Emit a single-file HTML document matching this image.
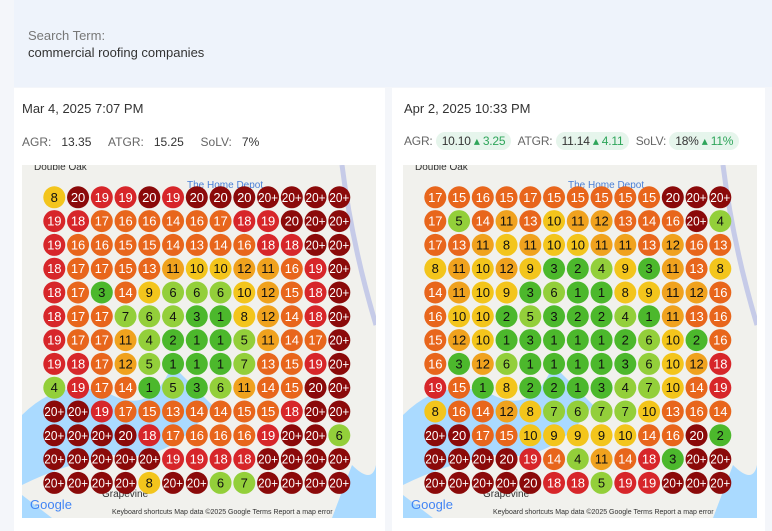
<!DOCTYPE html>
<html><head><meta charset="utf-8">
<style>
body{margin:0;width:772px;height:531px;background:#f4f6fa;font-family:"Liberation Sans",sans-serif;position:relative;overflow:hidden}
.search{position:absolute;left:14px;top:0;width:758px;height:87px;background:#eef3fb}
.card{position:absolute;top:88px;height:443px;background:#fff}
.t{position:absolute;color:#333}
.pill{display:inline-block;background:#e6f5ec;border-radius:11px;padding:2px 6px;color:#333}
.up{color:#2ea55a}
.map{position:absolute;width:354px;height:353px;background:#f1f1ed;overflow:hidden}
</style></head><body>
<div class="search">
 <div class="t" style="left:14px;top:28px;font-size:13px;color:#777">Search Term:</div>
 <div class="t" style="left:14px;top:45px;font-size:13px">commercial roofing companies</div>
</div>
<div class="card" style="left:14px;width:371px">
 <div class="t" style="left:8px;top:13px;font-size:13px">Mar 4, 2025 7:07 PM</div>
 <div class="t" style="left:8px;top:47px;font-size:12px;color:#666">AGR: &nbsp;&nbsp;<b style="font-weight:normal;color:#333">13.35</b> &nbsp;&nbsp;&nbsp;&nbsp;ATGR: &nbsp;&nbsp;<span style="color:#333">15.25</span> &nbsp;&nbsp;&nbsp;&nbsp;SoLV: &nbsp;&nbsp;<span style="color:#333">7%</span></div>
</div>
<div class="card" style="left:392px;width:373px">
 <div class="t" style="left:12px;top:44px;font-size:12px;color:#666;letter-spacing:-0.2px">AGR: <span class="pill">10.10 <span class="up">▴ 3.25</span></span> &nbsp;ATGR: <span class="pill">11.14 <span class="up">▴ 4.11</span></span> &nbsp;SoLV: <span class="pill">18% <span class="up">▴ 11%</span></span></div>
 <div class="t" style="left:12px;top:13px;font-size:13px">Apr 2, 2025 10:33 PM</div>
</div>
<div class="map" id="m1" style="left:22px;top:165px"></div>
<div class="map" id="m2" style="left:403px;top:165px"></div>
<script>
const gridMar=[
"8,20,19,19,20,19,20,20,20,20+,20+,20+,20+",
"19,18,17,16,16,14,16,17,18,19,20,20+,20+",
"19,16,16,15,15,14,13,14,16,18,18,20+,20+",
"18,17,17,15,13,11,10,10,12,11,16,19,20+",
"18,17,3,14,9,6,6,6,10,12,15,18,20+",
"18,17,17,7,6,4,3,1,8,12,14,18,20+",
"19,17,17,11,4,2,1,1,5,11,14,17,20+",
"19,18,17,12,5,1,1,1,7,13,15,19,20+",
"4,19,17,14,1,5,3,6,11,14,15,20,20+",
"20+,20+,19,17,15,13,14,14,15,15,18,20+,20+",
"20+,20+,20+,20,18,17,16,16,16,19,20+,20+,6",
"20+,20+,20+,20+,20+,19,19,18,18,20+,20+,20+,20+",
"20+,20+,20+,20+,8,20+,20+,6,7,20+,20+,20+,20+"];
const gridApr=[
"17,15,16,15,17,15,15,15,15,15,20,20+,20+",
"17,5,14,11,13,10,11,12,13,14,16,20+,4",
"17,13,11,8,11,10,10,11,11,13,12,16,13",
"8,11,10,12,9,3,2,4,9,3,11,13,8",
"14,11,10,9,3,6,1,1,8,9,11,12,16",
"16,10,10,2,5,3,2,2,4,1,11,13,16",
"15,12,10,1,3,1,1,1,2,6,10,2,16",
"16,3,12,6,1,1,1,1,3,6,10,12,18",
"19,15,1,8,2,2,1,3,4,7,10,14,19",
"8,16,14,12,8,7,6,7,7,10,13,16,14",
"20+,20,17,15,10,9,9,9,10,14,16,20,2",
"20+,20+,20+,20,19,14,4,11,14,18,3,20+,20+",
"20+,20+,20+,20+,20,18,18,5,19,19,20+,20+,20+"];
function color(v){const n=v==='20+'?21:+v;
 if(n<=3)return['#4cb82c','#111'];if(n<=7)return['#93cf3a','#111'];if(n<=10)return['#f3c51c','#111'];
 if(n<=12)return['#f0a21e','#111'];if(n<=17)return['#e8661c','#fff'];if(n<=19)return['#d7262a','#fff'];return['#8b0a0a','#fff'];}
const NS='http://www.w3.org/2000/svg';
function draw(id,grid){
 const host=document.getElementById(id);
 const svg=document.createElementNS(NS,'svg');svg.setAttribute('width',354);svg.setAttribute('height',353);
 svg.innerHTML='<path d="M0 250 Q40 210 90 230 Q130 250 150 200 L190 240 Q150 300 90 290 Q40 300 0 320Z" fill="#aadaff"/><path d="M0 330 L30 353 L0 353Z" fill="#aadaff"/><path d="M330 300 Q350 320 354 300 L354 353 L310 353Z" fill="#aadaff"/><path d="M320 0 Q330 80 354 160" stroke="#c6cbe8" stroke-width="5" fill="none"/><text x="8" y="344" font-size="13" fill="#4285f4" font-family="Liberation Sans">Google</text><text x="90" y="349" font-size="7" fill="#333" font-family="Liberation Sans">Keyboard shortcuts    Map data ©2025 Google    Terms    Report a map error</text><text x="80" y="332" font-size="10" fill="#333" font-family="Liberation Sans">Grapevine</text><text x="165" y="23" font-size="10" fill="#4a7fd6" font-family="Liberation Sans">The Home Depot</text><text x="12" y="5" font-size="10" fill="#333" font-family="Liberation Sans">Double Oak</text>';
 
 grid.forEach((row,r)=>row.split(',').forEach((v,c)=>{
  const cx=32.3+c*23.75, cy=32.3+r*23.8;const [bg,fg]=color(v);
  const g=document.createElementNS(NS,'g');
  
  
  const extra=v==='20+'?` textLength="20" lengthAdjust="spacingAndGlyphs"`:'';
  g.innerHTML=`<circle cx="${cx}" cy="${cy}" r="11" fill="${bg}"/><text x="${cx}" y="${cy+4.5}" text-anchor="middle" font-size="13"${extra} fill="${fg}" font-family="Liberation Sans">${v}</text>`;
  svg.appendChild(g);
 }));
 host.appendChild(svg);
}
draw('m1',gridMar);draw('m2',gridApr);
</script>
</body></html>
